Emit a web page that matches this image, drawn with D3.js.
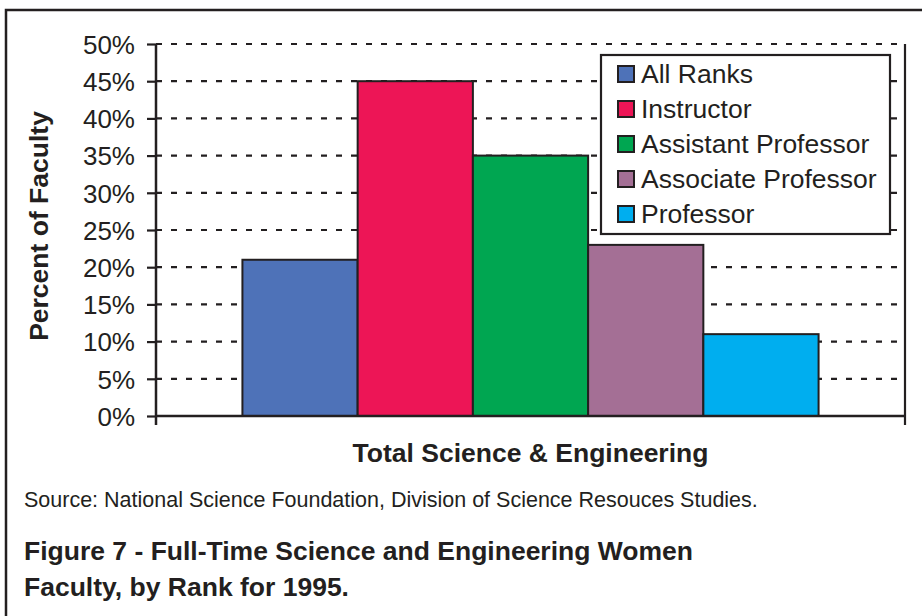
<!DOCTYPE html>
<html>
<head>
<meta charset="utf-8">
<script src="https://cdn.jsdelivr.net/npm/d3@7"></script>
<style>
  body { margin: 0; background: #fff; }
  svg { font-family: "Liberation Sans", Arial, sans-serif; }
</style>
</head>
<body>
<svg id="chart" width="922" height="616"></svg>
<script>
// data
var categories = ["Total Science & Engineering"];
var seriesNames = ["All Ranks", "Instructor", "Assistant Professor", "Associate Professor", "Professor"];
var seriesValues = [21, 45, 35, 23, 11];
var seriesColors = ["#4e72b8", "#ed1556", "#00a651", "#a46f95", "#00aeef"];
var yTicks = [0, 5, 10, 15, 20, 25, 30, 35, 40, 45, 50];

var ink = "#231f20";
var svg = d3.select("#chart");

// outer frame (left + top only)
svg.append("path")
  .attr("d", "M6,616 L6,10 L922,10")
  .attr("fill", "none")
  .attr("stroke", ink)
  .attr("stroke-width", 2.5);

var plotLeft = 156, plotRight = 905, plotTop = 44, plotBottom = 416;

var y = d3.scaleLinear().domain([0, 50]).range([plotBottom, plotTop]);
var x0 = d3.scaleBand().domain(categories).range([plotLeft, plotRight]).paddingInner(0).paddingOuter(0.15);
var x1 = d3.scaleBand().domain(seriesNames).range([0, x0.bandwidth()]).padding(0);

// gridlines (dashed)
svg.append("g")
  .selectAll("line")
  .data(yTicks.filter(d => d > 0))
  .enter()
  .append("line")
  .attr("x1", plotLeft)
  .attr("x2", plotRight)
  .attr("y1", d => y(d))
  .attr("y2", d => y(d))
  .attr("stroke", ink)
  .attr("stroke-width", 2.2)
  .attr("stroke-dasharray", "6,9");

// right border of plot area
svg.append("line")
  .attr("x1", plotRight).attr("x2", plotRight)
  .attr("y1", plotTop).attr("y2", plotBottom + 9)
  .attr("stroke", ink)
  .attr("stroke-width", 2.2);

// bars
var rows = seriesNames.map((s, i) => ({ cat: categories[0], name: s, value: seriesValues[i], color: seriesColors[i] }));
svg.append("g")
  .selectAll("rect")
  .data(rows)
  .enter()
  .append("rect")
  .attr("x", d => x0(d.cat) + x1(d.name))
  .attr("y", d => y(d.value))
  .attr("width", x1.bandwidth())
  .attr("height", d => y(0) - y(d.value))
  .attr("fill", d => d.color)
  .attr("stroke", ink)
  .attr("stroke-width", 2);

// y axis
var yAxis = d3.axisLeft(y)
  .tickValues(yTicks)
  .tickSize(9)
  .tickPadding(12)
  .tickFormat(d => d + "%");
var gy = svg.append("g")
  .attr("transform", "translate(" + plotLeft + ",0)")
  .call(yAxis);
gy.select(".domain").remove();
gy.append("line")
  .attr("x1", 0).attr("x2", 0)
  .attr("y1", plotTop).attr("y2", plotBottom + 9)
  .attr("stroke", ink)
  .attr("stroke-width", 2.5);
gy.selectAll(".tick line").attr("stroke", ink).attr("stroke-width", 2.2);
gy.selectAll(".tick text")
  .attr("fill", ink)
  .style("font-size", "26px")
  .style("font-family", "'Liberation Sans', Arial, sans-serif")
  .attr("dy", "0.36em");

// x axis line
svg.append("line")
  .attr("x1", plotLeft).attr("x2", plotRight)
  .attr("y1", plotBottom).attr("y2", plotBottom)
  .attr("stroke", ink)
  .attr("stroke-width", 2.5);

// axis titles
svg.append("text")
  .attr("transform", "translate(48,226) rotate(-90)")
  .attr("text-anchor", "middle")
  .attr("fill", ink)
  .style("font-size", "26.5px")
  .style("font-weight", "bold")
  .text("Percent of Faculty");

svg.append("text")
  .attr("x", x0(categories[0]) + x0.bandwidth() / 2)
  .attr("y", 462)
  .attr("text-anchor", "middle")
  .attr("fill", ink)
  .style("font-size", "26.5px")
  .style("font-weight", "bold")
  .text(categories[0]);

// legend
var legend = svg.append("g");
legend.append("rect")
  .attr("x", 601).attr("y", 55)
  .attr("width", 289).attr("height", 179)
  .attr("fill", "#fff")
  .attr("stroke", ink)
  .attr("stroke-width", 2.2);
var items = legend.selectAll("g.item")
  .data(rows)
  .enter()
  .append("g")
  .attr("class", "item")
  .attr("transform", (d, i) => "translate(618," + (74 + i * 35) + ")");
items.append("rect")
  .attr("x", 0).attr("y", -8)
  .attr("width", 16).attr("height", 16)
  .attr("fill", d => d.color)
  .attr("stroke", ink)
  .attr("stroke-width", 2);
items.append("text")
  .attr("x", 23)
  .attr("y", 9)
  .attr("fill", ink)
  .style("font-size", "26.5px")
  .text(d => d.name);

// source + caption
svg.append("text")
  .attr("x", 24).attr("y", 507)
  .attr("fill", ink)
  .style("font-size", "21.5px")
  .text("Source: National Science Foundation, Division of Science Resouces Studies.");

var caption = ["Figure 7 - Full-Time Science and Engineering Women", "Faculty, by Rank for 1995."];
svg.append("g")
  .selectAll("text")
  .data(caption)
  .enter()
  .append("text")
  .attr("x", 24)
  .attr("y", (d, i) => 560 + i * 36)
  .attr("fill", ink)
  .style("font-size", "26.5px")
  .style("font-weight", "bold")
  .text(d => d);
</script>
</body>
</html>
